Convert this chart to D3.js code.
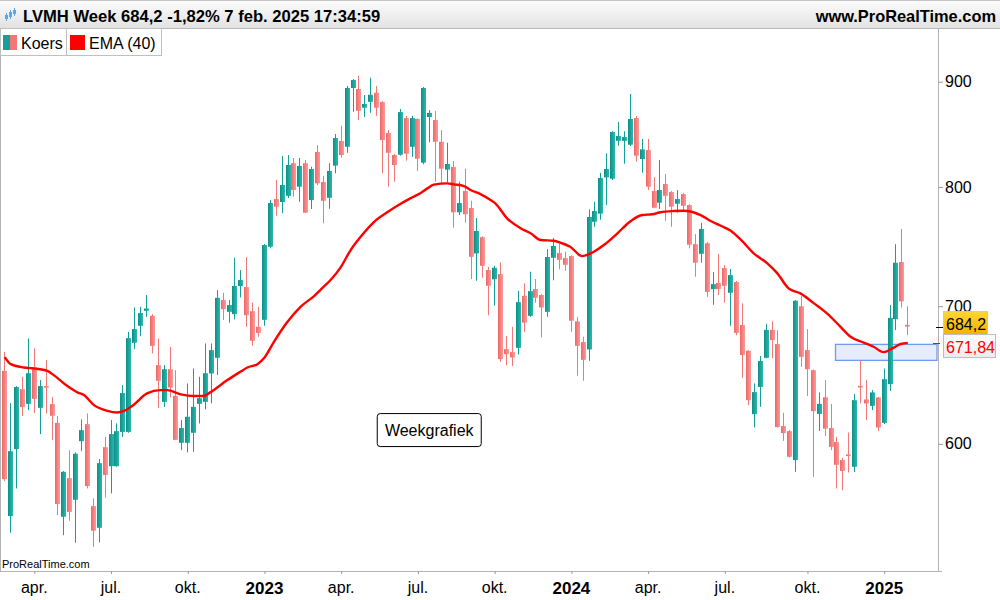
<!DOCTYPE html>
<html><head><meta charset="utf-8">
<script src="https://cdn.jsdelivr.net/npm/d3@7/dist/d3.min.js"></script>
<style>body{margin:0;background:#fff;} svg{display:block;font-family:Arial,"Liberation Sans",sans-serif;}</style>
</head><body><svg id="c" width="1000" height="600"></svg>
<script>
// ---- DATA (weekly candles, LVMH, week of 2022-02-28 .. 2025-02-03) ----
const firstWeek = new Date(2022, 1, 28);
const lastWeek = new Date(2025, 1, 3);
const opens = [651.1,553.4,596.5,637.9,627.5,653.6,624.7,640.1,627.3,614.2,553.0,577.4,563.6,601.8,613.4,559.6,546.2,597.8,585.2,585.2,
608.1,608.1,671.9,684.8,696.4,692.5,655.3,628.9,652.3,633.2,600.7,600.7,607.5,627.5,628.9,649.2,660.7,704.8,695.6,693.8,
716.0,715.1,696.1,684.0,689.4,748.2,789.2,786.6,792.1,821.5,800.2,821.5,788.3,831.9,804.4,790.3,819.3,842.2,836.8,893.7,
892.7,874.2,880.0,888.9,879.7,849.7,829.1,829.4,864.1,836.8,863.2,822.0,865.1,862.2,841.5,815.6,818.1,777.6,796.3,781.3,
742.6,756.2,728.9,721.4,725.6,667.1,664.9,668.1,708.2,692.5,713.5,708.8,695.6,739.0,742.9,738.7,740.4,688.2,672.4,666.9,
769.4,776.4,808.6,807.4,842.4,842.4,838.7,864.1,825.4,833.7,796.3,786.0,802.6,795.4,785.1,793.6,783.9,750.3,742.3,751.1,
713.5,718.4,730.5,710.6,719.2,685.4,665.9,620.3,639.5,660.7,681.7,670.9,612.1,608.6,589.2,700.0,666.4,651.6,620.5,632.2,
610.7,601.2,589.2,592.9,584.8,640.3,630.6,626.1,632.0,614.3,641.5,689.9,735.5,685.5];
const highs = [665.1,628.0,640.1,646.8,675.2,667.7,644.4,659.0,632.2,619.0,582.0,595.8,594.3,616.7,620.8,564.5,589.9,604.7,616.2,613.9,
640.8,680.2,699.0,699.5,708.8,693.8,675.2,655.3,668.8,651.6,616.2,642.0,652.8,646.8,671.4,671.4,712.7,710.6,704.8,739.0,
728.9,739.6,702.7,699.5,750.4,788.3,806.2,828.2,829.1,826.3,826.3,824.5,818.3,838.4,809.9,821.5,848.8,856.7,895.7,902.7,
906.0,886.7,904.0,895.7,880.7,852.6,830.0,872.9,866.1,866.3,863.8,894.7,871.9,870.9,852.6,840.6,823.6,804.7,816.5,787.7,
772.6,757.0,731.6,732.4,735.2,677.1,684.0,712.1,718.1,727.5,721.6,709.6,746.2,755.5,751.0,744.0,741.0,691.7,676.4,780.2,
786.8,812.8,830.7,851.6,860.3,851.4,887.7,866.1,844.1,844.1,808.9,824.5,811.6,796.3,797.2,794.5,784.8,758.9,768.6,752.1,
727.3,742.1,733.0,729.7,720.0,702.2,666.4,642.0,662.0,686.4,688.4,681.5,621.2,609.3,704.8,708.0,682.3,652.1,635.6,644.4,
627.4,604.7,590.7,607.7,634.4,659.0,644.4,637.2,632.4,652.8,700.9,750.3,763.2,700.0];
const lows = [575.5,543.2,570.8,619.0,623.1,621.2,606.6,620.8,602.5,554.0,541.7,550.5,537.1,595.1,570.8,534.7,537.3,564.9,567.6,584.8,
604.7,607.5,667.1,676.9,691.7,663.9,624.7,625.4,632.0,602.5,595.8,594.3,594.7,613.9,623.6,627.8,648.0,689.2,687.2,689.7,
706.9,684.0,669.6,676.4,684.8,746.8,774.6,776.7,790.1,791.2,786.8,777.0,780.5,801.7,768.1,780.7,812.3,826.6,831.2,870.2,
862.2,865.1,869.3,866.3,812.3,800.2,804.7,828.5,823.9,827.3,814.4,820.5,841.0,804.7,803.2,804.1,764.3,775.2,768.6,721.6,
720.2,722.7,693.0,700.6,657.7,655.3,654.6,663.2,680.2,691.7,702.7,675.9,691.7,720.6,729.5,728.3,680.2,647.5,643.9,658.5,
765.1,771.2,783.9,806.2,837.7,821.1,837.4,823.0,812.8,797.2,781.1,780.5,770.3,765.1,777.3,777.9,746.8,723.5,734.9,707.4,
701.1,708.8,702.7,684.8,677.6,646.1,626.6,611.1,625.4,660.3,660.3,611.0,602.0,590.9,581.5,654.0,633.1,578.3,608.8,605.2,
595.8,570.8,569.7,581.1,581.5,627.8,616.2,623.1,608.6,613.4,636.7,681.5,699.0,677.6];
const closes = [576.8,595.1,639.4,625.2,649.4,631.0,640.1,639.1,619.2,560.9,581.5,556.0,593.4,609.3,572.3,544.4,587.2,579.5,606.6,608.6,
635.1,675.4,682.3,694.6,698.2,669.6,643.9,652.3,639.1,602.7,610.7,618.5,625.4,631.5,649.4,666.4,706.6,697.7,700.9,716.0,
720.8,693.0,673.4,679.4,749.6,785.7,782.5,801.7,819.9,797.2,819.0,777.3,816.2,803.2,787.7,814.4,845.0,829.1,893.7,901.7,
871.2,877.8,887.0,874.2,843.1,831.2,819.9,869.9,830.3,864.1,825.7,893.7,869.2,841.5,816.5,820.8,777.6,785.7,775.9,739.8,
761.5,732.4,716.2,730.8,659.7,663.4,661.0,703.2,687.2,711.9,706.6,699.0,739.6,748.8,737.3,733.2,688.7,669.6,659.2,773.5,
778.7,808.0,816.2,850.7,846.9,845.9,863.2,828.5,834.4,800.2,781.6,797.2,792.1,782.5,789.2,783.3,749.9,734.9,763.2,711.3,
717.5,713.5,716.2,724.8,679.4,662.7,630.1,635.8,658.3,681.7,673.9,611.4,607.3,591.4,704.3,661.4,652.3,622.4,627.5,610.3,
598.0,586.1,582.1,592.0,630.1,639.1,627.8,635.6,611.1,645.1,690.9,734.9,703.8,684.2];
// EMA(40) at candle positions
const emaIndex = [0,1,3.2,4.9,7.2,8.3,10.6,12.3,13.4,15.1,17.4,19,20.2,21.9,24.1,26.4,27.5,29.8,32,33.7,34.8,37.7,39.9,41.1,42.8,43.9,45.6,47.8,50.1,52.4,54,55.2,56.9,58.6,60.3,62.5,64.8,67,68.7,70.4,71.6,72.7,75,76.1,77.8,78.9,80.6,82.3,83.1,85.1,87.4,89.1,90.8,93,94.2,95.8,97.8,98.9,99.8,101.5,103.8,105.7,108,109.7,111.1,113.4,115,117.9,119.6,121.3,123,124.7,126.9,129.2,130.9,132.8,134.8,137.1,139.3,141.6,143.3,145.6,147.2,148.9,150.4,151.8,153];
const emaValues = [661.2,656.0,653.6,652.9,651.1,648.0,640.1,635.6,633.7,626.6,622.6,621.5,622.6,627.1,634.9,637.2,637.2,634.2,633.0,633.0,635.6,644.4,650.4,653.6,656.0,660.3,672.6,687.3,699.5,708.0,715.3,720.8,731.1,745.4,756.6,768.9,777.6,784.8,789.8,794.3,798.7,802.0,803.2,802.3,800.8,797.2,793.6,788.3,785.4,772.4,763.8,759.5,753.8,753.2,751.5,748.2,740.4,741.8,744.0,749.6,759.5,768.6,775.2,775.9,777.6,778.7,779.0,775.2,770.0,766.0,761.7,754.1,742.7,734.4,726.2,714.1,710.1,702.2,694.4,684.0,676.4,671.9,668.9,664.9,667.7,671.0,671.84];
const yTickValues = [600, 700, 800, 900];
const monthLabels = {3: "apr.", 6: "jul.", 9: "okt."};
const lastPrice = 684.2, lastEma = 671.84;
const zoneLow = 658.8, zoneHigh = 670.7, zoneStartIndex = 141;
const noteIndex = 72, notePrice = 609, noteText = "Weekgrafiek";
const titleText = "LVMH Week 684,2 -1,82% 7 feb. 2025 17:34:59";

// ---- LAYOUT ----
const svg = d3.select("#c");
const P = {left: 0, right: 938, top: 28, bottom: 571};
const TEAL = "#14a097", RED = "#f47777";

const weeks = d3.timeMonday.range(firstWeek, d3.timeDay.offset(lastWeek, 1));
const data = weeks.map((d, i) => ({date: d, i, o: opens[i], h: highs[i], l: lows[i], c: closes[i]}));

const x = d3.scaleTime().domain([weeks[0], weeks[weeks.length - 1]]).range([4.3, 907.3]);
const y = d3.scaleLog().domain([520.4, 955.8]).range([P.bottom, P.top]);

const defs = svg.append("defs");
function grad(id, stops, vertical) {
  const g = defs.append("linearGradient").attr("id", id).attr("x1", 0).attr("y1", 0)
    .attr("x2", vertical ? 0 : 1).attr("y2", vertical ? 1 : 0);
  stops.forEach(s => g.append("stop").attr("offset", s[0]).attr("stop-color", s[1]));
}
grad("hdr", [["0%", "#fdfdfd"], ["100%", "#e2e2e2"]], true);
grad("tealG", [["0%", "#0c8f87"], ["100%", "#2bb8ae"]], false);
grad("redG", [["0%", "#f06666"], ["100%", "#fb9a9a"]], false);
grad("gold", [["0%", "#ffd633"], ["100%", "#f0b400"]], true);
grad("wht", [["0%", "#ffffff"], ["100%", "#ececec"]], true);
defs.append("clipPath").attr("id", "clip").append("rect")
  .attr("x", P.left).attr("y", P.top).attr("width", P.right - P.left).attr("height", P.bottom - P.top);

// header
svg.append("rect").attr("x", 0).attr("y", 0).attr("width", 1000).attr("height", 28).attr("fill", "url(#hdr)");
svg.append("line").attr("x1", 0).attr("x2", 1000).attr("y1", 0.5).attr("y2", 0.5).attr("stroke", "#c4c4c4");
svg.append("line").attr("x1", 0).attr("x2", 1000).attr("y1", 28.5).attr("y2", 28.5).attr("stroke", "#b8b8b8");
// tiny candle icon
const ic = svg.append("g").attr("fill", "#5aa9e6").attr("stroke", "#5aa9e6");
[[6, 15, 19, 13, 21], [10, 12, 17, 10, 19], [14, 10, 14, 8, 16]].forEach(([cx, t, b, wt, wb]) => {
  ic.append("line").attr("x1", cx + 0.5).attr("x2", cx + 0.5).attr("y1", wt).attr("y2", wb).attr("stroke-width", 1);
  ic.append("rect").attr("x", cx - 1).attr("y", t).attr("width", 3).attr("height", b - t).attr("stroke", "none");
});
svg.append("text").attr("x", 23).attr("y", 22).attr("font-size", 16.6).attr("font-weight", "bold").attr("fill", "#000").text(titleText);
svg.append("text").attr("x", 996).attr("y", 22).attr("text-anchor", "end").attr("font-size", 16.4).attr("font-weight", "bold").attr("fill", "#000").text("www.ProRealTime.com");

// frame lines
svg.append("line").attr("x1", 0.5).attr("x2", 0.5).attr("y1", 28).attr("y2", P.bottom).attr("stroke", "#b4b4b4");
svg.append("line").attr("x1", 0).attr("x2", 942).attr("y1", P.bottom + 0.5).attr("y2", P.bottom + 0.5).attr("stroke", "#b4b4b4");
svg.append("line").attr("x1", P.right + 0.5).attr("x2", P.right + 0.5).attr("y1", 28).attr("y2", P.bottom).attr("stroke", "#b4b4b4");

// zone
const plotG = svg.append("g").attr("clip-path", "url(#clip)");
plotG.append("rect")
  .attr("x", Math.round(x(weeks[zoneStartIndex])) - 0.5).attr("y", y(zoneHigh))
  .attr("width", P.right - 1 - Math.round(x(weeks[zoneStartIndex])) + 0.5).attr("height", y(zoneLow) - y(zoneHigh))
  .attr("fill", "#e6ecfc").attr("stroke", "#6d9cf0").attr("stroke-width", 1.3);

// candles
const cg = plotG.append("g");
const cand = cg.selectAll("g.c").data(data).join("g").attr("class", "c");
cand.append("line")
  .attr("x1", d => Math.round(x(d.date)) + 0.5).attr("x2", d => Math.round(x(d.date)) + 0.5)
  .attr("y1", d => y(d.h)).attr("y2", d => y(d.l))
  .attr("stroke", d => d.c >= d.o ? TEAL : RED).attr("stroke-width", 1);
cand.append("rect")
  .attr("x", d => Math.round(x(d.date)) - 2).attr("width", 5)
  .attr("y", d => y(Math.max(d.o, d.c)))
  .attr("height", d => Math.max(1.5, y(Math.min(d.o, d.c)) - y(Math.max(d.o, d.c))))
  .attr("fill", d => d.c >= d.o ? "url(#tealG)" : "url(#redG)");

// EMA
const xi = i => x(weeks[0]) + (x(weeks[1]) - x(weeks[0])) * i;
const emaPts = emaIndex.map((k, j) => [k, emaValues[j]]);
plotG.append("path").datum(emaPts)
  .attr("d", d3.line().x(d => xi(d[0]) + 0.5).y(d => y(d[1])).curve(d3.curveMonotoneX))
  .attr("fill", "none").attr("stroke", "#ff0000").attr("stroke-width", 2.4).attr("stroke-linejoin", "round");

// note box
const nx = xi(noteIndex), ny = y(notePrice);
const note = svg.append("g");
note.append("rect").attr("x", nx - 52).attr("y", ny - 17).attr("width", 104).attr("height", 33).attr("rx", 3)
  .attr("fill", "#fff").attr("stroke", "#000").attr("stroke-width", 1);
note.append("text").attr("x", nx).attr("y", ny + 5.5).attr("text-anchor", "middle").attr("font-size", 16).attr("fill", "#000").text(noteText);

// watermark
svg.append("text").attr("x", 2).attr("y", 568).attr("font-size", 11).attr("fill", "#000").text("ProRealTime.com");

// right axis
const ya = svg.append("g").attr("transform", `translate(${P.right},0)`)
  .call(d3.axisRight(y).tickValues(yTickValues).tickFormat(d3.format("d")).tickSize(5).tickSizeOuter(0).tickPadding(2));
ya.select(".domain").remove();
ya.selectAll(".tick line").attr("stroke", "#9a9a9a");
ya.selectAll(".tick text").attr("font-size", 16).attr("font-family", "Arial,'Liberation Sans',sans-serif").attr("fill", "#000");

// bottom axis
const tickDates = weeks.filter((d, i) => i > 0 && d.getMonth() !== weeks[i - 1].getMonth() && d.getMonth() % 3 === 0);
const xa = svg.append("g").attr("transform", `translate(0,${P.bottom})`)
  .call(d3.axisBottom(x).tickValues(tickDates).tickSize(3).tickSizeOuter(0).tickPadding(6)
    .tickFormat(d => d.getMonth() === 0 ? String(d.getFullYear()) : monthLabels[d.getMonth()]));
xa.select(".domain").remove();
xa.selectAll(".tick line").attr("stroke", "#9a9a9a").attr("transform", "translate(0.5,0)");
xa.selectAll(".tick text").attr("font-size", d => d.getMonth() === 0 ? 17 : 16)
  .attr("font-weight", d => d.getMonth() === 0 ? "bold" : "normal")
  .attr("font-family", "Arial,'Liberation Sans',sans-serif").attr("fill", "#000").attr("dy", "0.8em");

// legend
const lg = svg.append("g");
lg.append("rect").attr("x", 0.5).attr("y", 28.5).attr("width", 66).attr("height", 27).attr("fill", "#fff").attr("stroke", "#c0c0c0");
lg.append("rect").attr("x", 66.5).attr("y", 28.5).attr("width", 95).attr("height", 27).attr("fill", "#fff").attr("stroke", "#c0c0c0");
lg.append("rect").attr("x", 3).attr("y", 35).attr("width", 7).attr("height", 15).attr("fill", TEAL);
lg.append("rect").attr("x", 10).attr("y", 35).attr("width", 7).attr("height", 15).attr("fill", RED);
lg.append("text").attr("x", 21).attr("y", 48.5).attr("font-size", 16).text("Koers");
lg.append("rect").attr("x", 70).attr("y", 35).attr("width", 15).attr("height", 15).attr("fill", "#ff0000");
lg.append("text").attr("x", 89).attr("y", 48.5).attr("font-size", 16).text("EMA (40)");

// last price / EMA tags
const yp = y(lastPrice), ye = y(lastEma);
svg.append("line").attr("x1", 936).attr("x2", 943).attr("y1", Math.round(yp) + 0.5).attr("y2", Math.round(yp) + 0.5).attr("stroke", "#000");
svg.append("line").attr("x1", 933).attr("x2", 940).attr("y1", Math.round(ye) + 0.5).attr("y2", Math.round(ye) + 0.5).attr("stroke", "#ff0000");
svg.append("rect").attr("x", 943.5).attr("y", yp - 15).attr("width", 44).attr("height", 23).attr("fill", "url(#gold)").attr("stroke", "#c8c8c8");
svg.append("text").attr("x", 946).attr("y", yp + 3).attr("font-size", 16).attr("fill", "#000").text(d3.format(".1f")(lastPrice).replace(".", ","));
svg.append("rect").attr("x", 943.5).attr("y", yp + 8).attr("width", 52).attr("height", 23).attr("fill", "url(#wht)").attr("stroke", "#bcbcbc");
svg.append("text").attr("x", 946).attr("y", yp + 26).attr("font-size", 16).attr("fill", "#ff0000").text(d3.format(".2f")(lastEma).replace(".", ","));
</script></body></html>
